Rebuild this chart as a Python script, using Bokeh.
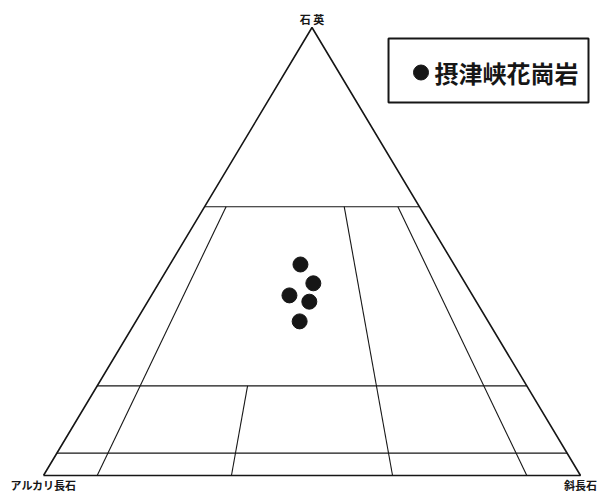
from bokeh.plotting import figure
from bokeh.models import Range1d, ColumnDataSource
from bokeh.core.properties import value
from bokeh.embed import file_html
from bokeh.resources import INLINE

# --- data (modal composition, %) ---
quartz = [47.1, 42.9, 40.2, 38.8, 34.4]
alkali_feldspar = [28.6, 28.3, 34.1, 31.1, 35.1]
plagioclase = [24.3, 28.8, 25.7, 30.1, 30.5]

series_name = "摂津峡花崗岩"
apex_labels = ["石 英", "アルカリ長石", "斜長石"]

# QAP field boundaries
q_levels = [5, 20, 60]                     # horizontal lines (Q %)
ratio_lines = [10, 35, 65, 90]             # P/(A+P) %
ratio_q_top = [60, 20, 60, 60]             # each ratio line runs from Q=0 up to this Q

FONT = "Noto Sans CJK JP"
INK = "#161616"


def tern(q, r):
    """Q % and P/(A+P) ratio % -> cartesian (x along A-P base, y = Q)."""
    return q / 2 + (100 - q) * r / 100, q


p = figure(width=598, height=493, output_backend="svg", toolbar_location=None,
           x_range=Range1d(-8.007, 103.352), y_range=Range1d(-4.018, 106.027),
           min_border=0)
p.axis.visible = False
p.grid.visible = False
p.outline_line_color = None
p.background_fill_color = "white"

# triangle outline
p.line([0, 50, 100, 0], [0, 100, 0, 0], line_color=INK, line_width=1.6)

# horizontal Q lines
for q in q_levels:
    p.line([q / 2, 100 - q / 2], [q, q], line_color=INK, line_width=1.1)

# ratio lines
for r, qt in zip(ratio_lines, ratio_q_top):
    x0, y0 = tern(0, r)
    x1, y1 = tern(qt, r)
    p.line([x0, x1], [y0, y1], line_color=INK, line_width=1.1)

# data points
src = ColumnDataSource(dict(
    x=[pp + q / 2 for pp, q in zip(plagioclase, quartz)],
    y=quartz,
))
p.scatter("x", "y", source=src, size=15, fill_color=INK, line_color=INK)

# apex labels
p.text([50], [101.9], text=[apex_labels[0]], text_font=value(FONT),
       text_font_size="11px", text_font_style="bold", text_color=INK,
       text_align="center", text_baseline="middle")
p.text([0, 100], [-2.2, -2.2], text=apex_labels[1:], text_font=value(FONT),
       text_font_size="11px", text_font_style="bold", text_color=INK,
       text_align="center", text_baseline="middle")

# legend box
p.quad(left=[64.25], right=[101.49], top=[97.545], bottom=[83.26],
       fill_color=None, line_color=INK, line_width=2)
p.scatter([70.3], [89.955], size=15, fill_color=INK, line_color=INK)
p.text([72.81], [89.955], text=[series_name], text_font=value(FONT),
       text_font_size="24px", text_font_style="bold", text_color=INK,
       text_align="left", text_baseline="middle")

open("out.html", "w").write(file_html(p, INLINE))
